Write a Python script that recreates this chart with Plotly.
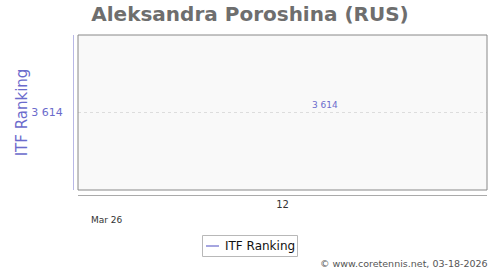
import plotly.graph_objects as go

weeks = [12]
ranking = [3614]
tick_labels = ["3 614"]
x_tick_labels = ["12"]
month_label = "Mar 26"
title_text = "Aleksandra Poroshina (RUS)"
series_name = "ITF Ranking"
credit = "© www.coretennis.net, 03-18-2026"

W, H = 500, 270
L, R, T, B = 78, 13, 35, 80
pw, ph = W - L - R, H - T - B

purple = "#6b6bcc"
line_col = "#8888d6"

fig = go.Figure()
fig.add_trace(go.Scatter(
    x=weeks, y=ranking, mode="lines", name=series_name,
    line=dict(color=line_col, width=1.5), showlegend=False,
))
fig.add_annotation(x=weeks[0], y=ranking[0], text=tick_labels[0], showarrow=False,
                   xshift=42, yshift=8, xanchor="center", yanchor="middle",
                   font=dict(family="DejaVu Sans", size=9, color=purple))

fig.update_layout(
    width=W, height=H,
    margin=dict(l=L, r=R, t=T, b=B, autoexpand=False),
    paper_bgcolor="white", plot_bgcolor="#f9f9f9",
    title=dict(text=f"<b>{title_text}</b>", x=0.5, xanchor="center",
               y=1 - 14 / H, yanchor="middle",
               font=dict(family="DejaVu Sans", size=20, color="#6e6e6e")),
    showlegend=False,
    xaxis=dict(range=[11, 13], tickvals=weeks, ticktext=x_tick_labels,
               showgrid=False, zeroline=False, showline=False,
               ticks="outside", ticklen=5, tickcolor="rgba(0,0,0,0)",
               tickfont=dict(family="DejaVu Sans", size=10, color="#333"),
               fixedrange=True),
    yaxis=dict(range=[3614 - 77.5, 3614 + 77.5], tickvals=ranking, ticktext=tick_labels,
               showgrid=True, gridcolor="#dddddd", griddash="dot", gridwidth=1,
               zeroline=False, showline=False,
               ticks="outside", ticklen=12, tickcolor="rgba(0,0,0,0)",
               tickfont=dict(family="DejaVu Sans", size=11, color=purple),
               title=dict(text=series_name, standoff=0,
                          font=dict(family="DejaVu Sans", size=15, color=purple))),
)

# plot border
fig.add_shape(type="rect", xref="paper", yref="paper", x0=0, y0=0, x1=1, y1=1,
              line=dict(color="#888888", width=1), fillcolor="rgba(0,0,0,0)", layer="above")
# left axis line
fig.add_shape(type="line", xref="paper", yref="paper", x0=-4.5 / pw, x1=-4.5 / pw, y0=0, y1=1,
              line=dict(color="#b8b8e6", width=1))
# bottom axis line
fig.add_shape(type="line", xref="paper", yref="paper", x0=0, x1=1, y0=-5.5 / ph, y1=-5.5 / ph,
              line=dict(color="#aaaaaa", width=1))

fig.add_annotation(text=month_label, xref="paper", yref="paper", x=(89 - L) / pw, xanchor="left",
                   y=-(220 - 190) / ph, yanchor="middle", showarrow=False,
                   font=dict(family="DejaVu Sans", size=9, color="#333"))
fig.add_annotation(text=credit, xref="paper", yref="paper", x=(490 - L) / pw, xanchor="right",
                   y=-(263 - 190) / ph, yanchor="middle", showarrow=False,
                   font=dict(family="DejaVu Sans", size=9.5, color="#555"))

# legend (drawn manually to match compact box)
def px_x(v):
    return (v - L) / pw
def px_y(v):
    return (H - B - v) / ph
fig.add_shape(type="rect", xref="paper", yref="paper", x0=px_x(202.5), x1=px_x(297.5),
              y0=px_y(256.5), y1=px_y(235.5), line=dict(color="#b8b8b8", width=1),
              fillcolor="white")
fig.add_shape(type="line", xref="paper", yref="paper", x0=px_x(206), x1=px_x(219),
              y0=px_y(246), y1=px_y(246), line=dict(color=line_col, width=1.5))
fig.add_annotation(text=series_name, xref="paper", yref="paper", x=px_x(223), xanchor="left",
                   y=px_y(246), yanchor="middle", showarrow=False,
                   font=dict(family="DejaVu Sans", size=12, color="#111"))

fig.write_html("out.html")
